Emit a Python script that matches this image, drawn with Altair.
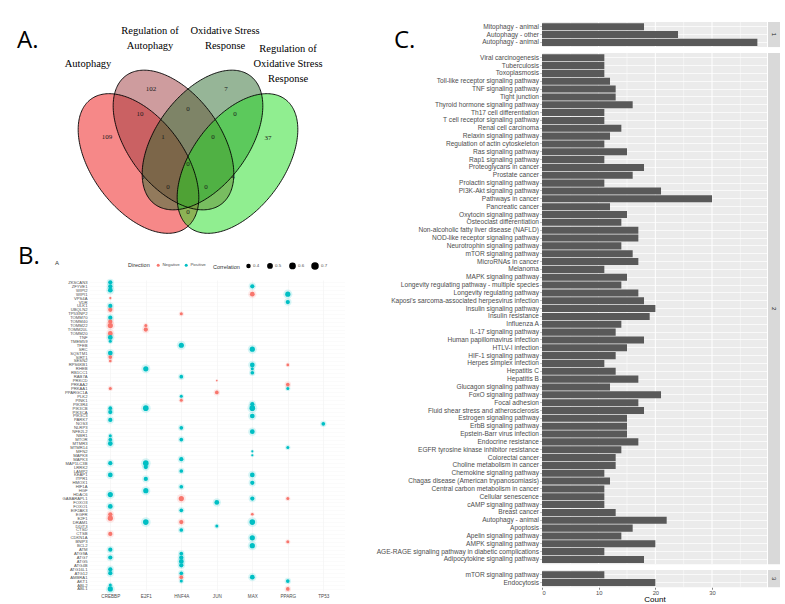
import altair as alt
import numpy as np
import pandas as pd

FONT = "Liberation Sans"
SERIF = "Liberation Serif"

# ======================= DATA =======================
# ---- Panel A: Venn ----
venn_sets = ["Autophagy", "Regulation of Autophagy", "Oxidative Stress Response",
             "Regulation of Oxidative Stress Response"]
venn_colors = ["#ee1111", "#9e3a3e", "#2e6b30", "#22dd22"]
venn_region_counts = [109, 102, 7, 37, 10, 0, 0, 1, 0, 0, 1, 4, 0, 0, 0]
venn_label_lines = ["Autophagy", "Regulation of", "Autophagy", "Oxidative Stress", "Response",
                    "Regulation of", "Oxidative Stress", "Response"]

# ---- Panel B: dot plot ----
tfs = ["CREBBP", "E2F1", "HNF4A", "JUN", "MAX", "PPARG", "TP53"]
genes = ["ZKSCAN3", "ZFYVE1", "WIPI2", "WIPI1", "VPS4A", "VDR", "ULK1", "UBQLN2", "TP53INP2",
         "TOMM70", "TOMM40", "TOMM22", "TOMM20L", "TOMM20", "TNF", "TMEM59", "TFEB", "SRC",
         "SQSTM1", "SIRT1", "SESN2", "RPS6KB1", "RHEB", "RB1CC1", "RAB7A", "PRKCD", "PRKAA2",
         "PRKAA1", "PPARGC1A", "PLK2", "PINK1", "PIK3R4", "PIK3CB", "PIK3CA", "PIK3C3", "PARK7",
         "NOS3", "NLRP3", "NFE2L2", "NBR1", "MTOR", "MTMR3", "MTMR14", "MFN2", "MAPK8", "MAPK3",
         "MAP1LC3B", "LRRK2", "LAMP2", "KEAP1", "ITPR1", "HMOX1", "HIF1A", "HGF", "HDAC6",
         "GABARAPL1", "FOXO3", "FOXO1", "EIF2AK3", "EGFR", "E2F1", "DRAM1", "DDIT3", "CTSD",
         "CTSB", "CDKN1A", "BNIP3", "BCL2", "ATM", "ATG9A", "ATG7", "ATG5", "ATG4B", "ATG16L1",
         "ATG12", "AMBRA1", "AKT1", "ABL2", "ABL1"]
# (gene row index, direction P/N, correlation)
dots_CREBBP = [(0, "P", .5), (1, "P", .5), (2, "P", .55), (4, "N", .35), (6, "P", .5), (7, "N", .5),
               (9, "P", .5), (10, "N", .5), (11, "N", .6), (13, "N", .55), (14, "P", .55),
               (15, "P", .4), (18, "P", .55), (19, "N", .45), (20, "N", .38), (27, "N", .4),
               (32, "P", .45), (33, "P", .5), (35, "P", .5), (39, "P", .4), (40, "P", .45),
               (41, "P", .55), (46, "P", .5), (49, "P", .55), (54, "P", .6), (57, "P", .55),
               (59, "N", .5), (60, "N", .6), (64, "N", .5), (68, "P", .5), (70, "P", .5),
               (73, "P", .5), (74, "P", .5), (77, "P", .4), (78, "P", .6)]
dots_E2F1 = [(11, "N", .4), (12, "N", .5), (22, "P", .6), (32, "P", .65), (46, "P", .65),
             (47, "P", .5), (50, "P", .5), (53, "P", .6), (61, "P", .65)]
dots_HNF4A = [(8, "N", .4), (16, "P", .6), (24, "P", .45), (29, "P", .4), (30, "N", .4),
              (37, "P", .45), (40, "P", .45), (45, "P", .5), (48, "P", .45), (52, "P", .45),
              (55, "N", .6), (58, "P", .45), (61, "N", .5), (63, "P", .45), (69, "P", .45),
              (70, "P", .5), (71, "P", .55), (72, "P", .5), (74, "P", .45), (75, "N", .45),
              (76, "P", .4)]
dots_JUN = [(25, "N", .33), (28, "N", .45), (56, "P", .55), (62, "P", .4)]
dots_MAX = [(1, "P", .5), (3, "N", .55), (17, "P", .6), (21, "P", .55), (22, "P", .4),
            (23, "P", .45), (31, "P", .5), (32, "P", .65), (34, "P", .55), (38, "P", .55),
            (43, "P", .35), (44, "P", .35), (49, "P", .55), (51, "P", .5), (55, "P", .5),
            (59, "N", .38), (61, "P", .65), (65, "P", .6), (67, "P", .6), (75, "P", .55)]
dots_PPARG = [(3, "P", .6), (5, "P", .5), (21, "N", .38), (26, "N", .45), (27, "P", .4),
              (42, "P", .4), (55, "N", .4), (66, "N", .4), (76, "P", .45), (78, "N", .45)]
dots_TP53 = [(36, "P", .45)]

# ---- Panel C: KEGG bar chart ----
c1_terms = ["Mitophagy - animal", "Autophagy - other", "Autophagy - animal"]
c1_counts = [18, 24, 38]
c2_terms = ["Viral carcinogenesis", "Tuberculosis", "Toxoplasmosis",
            "Toll-like receptor signaling pathway", "TNF signaling pathway", "Tight junction",
            "Thyroid hormone signaling pathway", "Th17 cell differentiation",
            "T cell receptor signaling pathway", "Renal cell carcinoma", "Relaxin signaling pathway",
            "Regulation of actin cytoskeleton", "Ras signaling pathway", "Rap1 signaling pathway",
            "Proteoglycans in cancer", "Prostate cancer", "Prolactin signaling pathway",
            "PI3K-Akt signaling pathway", "Pathways in cancer", "Pancreatic cancer",
            "Oxytocin signaling pathway", "Osteoclast differentiation",
            "Non-alcoholic fatty liver disease (NAFLD)", "NOD-like receptor signaling pathway",
            "Neurotrophin signaling pathway", "mTOR signaling pathway", "MicroRNAs in cancer",
            "Melanoma", "MAPK signaling pathway", "Longevity regulating pathway - multiple species",
            "Longevity regulating pathway", "Kaposi's sarcoma-associated herpesvirus infection",
            "Insulin signaling pathway", "Insulin resistance", "Influenza A",
            "IL-17 signaling pathway", "Human papillomavirus infection", "HTLV-I infection",
            "HIF-1 signaling pathway", "Herpes simplex infection", "Hepatitis C", "Hepatitis B",
            "Glucagon signaling pathway", "FoxO signaling pathway", "Focal adhesion",
            "Fluid shear stress and atherosclerosis", "Estrogen signaling pathway",
            "ErbB signaling pathway", "Epstein-Barr virus infection", "Endocrine resistance",
            "EGFR tyrosine kinase inhibitor resistance", "Colorectal cancer",
            "Choline metabolism in cancer", "Chemokine signaling pathway",
            "Chagas disease (American trypanosomiasis)", "Central carbon metabolism in cancer",
            "Cellular senescence", "cAMP signaling pathway", "Breast cancer", "Autophagy - animal",
            "Apoptosis", "Apelin signaling pathway", "AMPK signaling pathway",
            "AGE-RAGE signaling pathway in diabetic complications",
            "Adipocytokine signaling pathway"]
c2_counts = [11, 11, 11, 12, 13, 13, 16, 11, 11, 14, 12, 11, 15, 11, 18, 16, 11, 21, 30, 12,
             15, 14, 17, 17, 14, 16, 17, 11, 15, 14, 17, 18, 20, 19, 14, 13, 18, 15, 13, 11,
             13, 17, 12, 21, 17, 18, 15, 15, 15, 17, 14, 13, 13, 11, 12, 11, 11, 11, 13, 22,
             16, 14, 20, 11, 18]
c3_terms = ["mTOR signaling pathway", "Endocytosis"]
c3_counts = [11, 20]
major_ticks = [0, 10, 20, 30]
minor_ticks = [5, 15, 25, 35]

# ======================= LAYOUT (pixels) =======================
venn_cx = [137.5, 172.5, 201.5, 236.5]
venn_cy = [162.5, 139.0, 139.0, 162.5]
venn_angle = [53.4, 53.4, 126.6, 126.6]
ELL_A, ELL_B = 80.0, 46.0
count_x = [106, 150, 225, 267, 139, 187, 234, 162, 212, 187, 142, 232, 167, 205, 187]
count_y = [136, 88, 88, 137, 113, 108, 113, 136, 136, 163, 176, 176, 186, 186, 211]
label_x = [87, 149, 149, 224, 224, 287, 287, 287]
label_y = [63, 30, 45, 30, 45, 48, 63, 78]
TOP = 21                      # top of panel C plot area (and venn view origin)
V_X0, V_W = 88, 257
V_H = 277.6 - 40 - TOP        # venn view height
DOT_W, DOT_H = 255.6, 311.3
STEP, C_W = 7.84, 225

# ======================= PANEL A =======================
vx = alt.Scale(domain=[V_X0, V_X0 + V_W], nice=False, zero=False)
vy = alt.Scale(domain=[TOP, TOP + V_H], nice=False, zero=False, reverse=True)

fill_rows, line_rows = [], []
for k, (nm, cx, cy, deg) in enumerate(zip(venn_sets, venn_cx, venn_cy, venn_angle)):
    th = np.deg2rad(deg)
    c, s = np.cos(th), np.sin(th)
    qa = s * s / ELL_A ** 2 + c * c / ELL_B ** 2
    xext = np.sqrt(ELL_A ** 2 * c * c + ELL_B ** 2 * s * s)
    X = np.linspace(-xext, xext, 241)
    qb = 2 * X * (c * s / ELL_A ** 2 - s * c / ELL_B ** 2)
    qc = X * X * (c * c / ELL_A ** 2 + s * s / ELL_B ** 2) - 1
    disc = np.sqrt(np.clip(qb * qb - 4 * qa * qc, 0, None))
    y_lo = (-qb - disc) / (2 * qa)
    y_hi = (-qb + disc) / (2 * qa)
    for xv, a1, a2 in zip(X, y_lo, y_hi):
        fill_rows.append({"set": nm, "k": k, "x": cx + xv, "y1": cy + a1, "y2": cy + a2})
    tt = np.linspace(0, 2 * np.pi, 241)
    for i, t in enumerate(tt):
        line_rows.append({"set": nm, "i": i,
                          "x": cx + ELL_A * np.cos(t) * c - ELL_B * np.sin(t) * s,
                          "y": cy + ELL_A * np.cos(t) * s + ELL_B * np.sin(t) * c})
fill_df = pd.DataFrame(fill_rows)
line_df = pd.DataFrame(line_rows)

fills = alt.Chart(fill_df).mark_area(fillOpacity=0.5, opacity=1, strokeWidth=0).encode(
    x=alt.X("x:Q", scale=vx, axis=None),
    y=alt.Y("y1:Q", scale=vy, axis=None, stack=None),
    y2="y2:Q",
    fill=alt.Fill("set:N", scale=alt.Scale(domain=venn_sets, range=venn_colors), legend=None),
    detail="set:N",
)
outlines = alt.Chart(line_df).mark_line(color="black", strokeWidth=0.9).encode(
    x=alt.X("x:Q", scale=vx, axis=None),
    y=alt.Y("y:Q", scale=vy, axis=None),
    detail="set:N",
    order="i:Q",
)
cnt_df = pd.DataFrame({"x": count_x, "y": count_y, "n": [str(v) for v in venn_region_counts]})
counts = alt.Chart(cnt_df).mark_text(font=SERIF, fontSize=7, color="#1a1a1a").encode(
    x=alt.X("x:Q", scale=vx, axis=None), y=alt.Y("y:Q", scale=vy, axis=None), text="n:N")
lab_df = pd.DataFrame({"x": label_x, "y": label_y, "t": venn_label_lines})
labels = alt.Chart(lab_df).mark_text(font=SERIF, fontSize=10.5, color="black").encode(
    x=alt.X("x:Q", scale=vx, axis=None), y=alt.Y("y:Q", scale=vy, axis=None), text="t:N")
one = alt.Data(values=[{}])
a_txt = alt.Chart(one).mark_text(text="A.", font="Open Sans", fontSize=24, align="left",
                                 baseline="alphabetic", color="black").encode(
    x=alt.value(16 - V_X0), y=alt.value(47 - TOP))
v_spacer = alt.Chart(one).mark_rule(color="white", strokeWidth=1).encode(
    x=alt.value(-V_X0), y=alt.value(0), y2=alt.value(1))
venn = alt.layer(fills, outlines, counts, labels, a_txt, v_spacer).properties(
    width=V_W, height=V_H)

# ======================= PANEL B =======================
rows = []
for tf, lst in zip(tfs, [dots_CREBBP, dots_E2F1, dots_HNF4A, dots_JUN, dots_MAX, dots_PPARG,
                         dots_TP53]):
    for gi, d, c in lst:
        rows.append({"tf": tf, "gene": genes[gi],
                     "Direction": "Positive" if d == "P" else "Negative", "Correlation": c})
dot_df = pd.DataFrame(rows)

bx = alt.Scale(type="point", domain=tfs, padding=0.6)
by = alt.Scale(type="point", domain=genes, padding=0.6)
bxax = alt.Axis(title=None, labelFontSize=4.6, labelColor="#4D4D4D", ticks=False, domain=False,
                grid=True, gridColor="#F1F1F1", gridWidth=0.6, labelPadding=2, labelAngle=0)
byax = alt.Axis(title=None, labelFontSize=4.2, labelColor="#4D4D4D", ticks=False, domain=False,
                grid=True, gridColor="#F4F4F4", gridWidth=0.4, labelPadding=2)
col_dom = ["Negative", "Positive"]
col_rng = ["#F8766D", "#00BFC4"]

halo = alt.Chart(dot_df).mark_circle(opacity=0.16).encode(
    x=alt.X("tf:N", scale=bx, axis=bxax), y=alt.Y("gene:N", scale=by, axis=byax),
    color=alt.Color("Direction:N", scale=alt.Scale(domain=col_dom, range=col_rng), legend=None),
    size=alt.Size("Correlation:Q", scale=alt.Scale(domain=[0.3, 0.7], range=[0, 110]),
                  legend=None),
)
pts = alt.Chart(dot_df).mark_circle(opacity=1).encode(
    x=alt.X("tf:N", scale=bx, axis=bxax), y=alt.Y("gene:N", scale=by, axis=byax),
    color=alt.Color("Direction:N", scale=alt.Scale(domain=col_dom, range=col_rng),
                    legend=alt.Legend(title="Direction", orient="none", legendX=39, legendY=-17,
                                      direction="horizontal", titleOrient="left",
                                      titleFontSize=5.5, titleFontWeight="normal",
                                      titleColor="#333333", labelFontSize=4.4,
                                      labelColor="#4D4D4D", symbolSize=9, symbolType="circle",
                                      columnPadding=4, labelOffset=2, titlePadding=6,
                                      symbolStrokeWidth=0)),
    size=alt.Size("Correlation:Q", scale=alt.Scale(domain=[0.3, 0.7], range=[0, 36]),
                  legend=alt.Legend(title="Correlation", orient="none", legendX=124, legendY=-18,
                                    direction="horizontal", titleOrient="left",
                                    values=[0.4, 0.5, 0.6, 0.7], titleFontSize=5.5,
                                    titleFontWeight="normal", titleColor="#333333",
                                    labelFontSize=4.4, labelColor="#4D4D4D",
                                    symbolFillColor="black", symbolStrokeColor="black",
                                    symbolOpacity=1, columnPadding=4, labelOffset=2,
                                    titlePadding=6)),
)
b_txt = alt.Chart(one).mark_text(text="B.", font="Open Sans", fontSize=24, align="left",
                                 baseline="alphabetic", color="black").encode(
    x=alt.value(17 - 88), y=alt.value(262 - 277.6))
small_a = alt.Chart(one).mark_text(text="A", fontSize=6, color="#333333").encode(
    x=alt.value(56 - 88), y=alt.value(261 - 277.6))
b_spacer = alt.Chart(one).mark_rule(color="white", strokeWidth=1).encode(
    x=alt.value(0), y=alt.value(-40), y2=alt.value(-39))
dot = alt.layer(halo, pts, b_txt, small_a, b_spacer).resolve_scale(
    size="independent", color="independent").properties(width=DOT_W, height=DOT_H)


# ======================= PANEL C =======================
def c_panel(terms, values, strip, bottom=False, extras=()):
    n = len(terms)
    h = STEP * (n + 0.2)
    df = pd.DataFrame({"term": terms, "Count": values})
    xsc = alt.Scale(domain=[0, 39.7], nice=False, zero=False)
    if bottom:
        xax = alt.Axis(values=major_ticks, grid=False, labelFontSize=5.8, labelColor="#4D4D4D",
                       tickSize=2, tickColor="#333333", tickWidth=0.6, domain=False,
                       title="Count", titleFontSize=8, titleFontWeight="normal",
                       titleColor="black", titlePadding=0, labelPadding=0.5)
    else:
        xax = None
    yax = alt.Axis(title=None, labelFontSize=6.6, labelColor="#4D4D4D", tickSize=2,
                   tickColor="#333333", tickWidth=0.6, domain=False, grid=True,
                   gridColor="white", gridWidth=0.7, bandPosition=0.5, labelPadding=1.5,
                   labelLimit=400)
    minor = alt.Chart(pd.DataFrame({"v": minor_ticks})).mark_rule(
        color="white", strokeWidth=0.5).encode(x=alt.X("v:Q", scale=xsc, axis=xax))
    major = alt.Chart(pd.DataFrame({"v": major_ticks})).mark_rule(
        color="white", strokeWidth=1).encode(x=alt.X("v:Q", scale=xsc, axis=xax))
    bars = alt.Chart(df).mark_bar(color="#595959").encode(
        x=alt.X("Count:Q", scale=xsc, axis=xax),
        y=alt.Y("term:N", sort=terms,
                scale=alt.Scale(domain=terms, paddingInner=0.1, paddingOuter=0.15), axis=yax),
    )
    s_rect = alt.Chart(one).mark_rect(color="#D9D9D9").encode(
        x=alt.value(C_W + 1), x2=alt.value(C_W + 13), y=alt.value(0), y2=alt.value(h))
    s_txt = alt.Chart(one).mark_text(text=strip, angle=90, fontSize=6, color="#1A1A1A").encode(
        x=alt.value(C_W + 7), y=alt.value(h / 2))
    return alt.layer(minor, major, bars, s_rect, s_txt, *extras).properties(
        width=C_W, height=h, view=alt.ViewBackground(fill="#EBEBEB", stroke=None))


c_txt = alt.Chart(one).mark_text(text="C.", font="Open Sans", fontSize=24, align="left",
                                 baseline="alphabetic", color="black").encode(
    x=alt.value(395 - 543), y=alt.value(47 - TOP))
c_top_spacer = alt.Chart(one).mark_rule(color="white", strokeWidth=1).encode(
    x=alt.value(0), y=alt.value(-TOP), y2=alt.value(-TOP + 1))
c_left_spacer = alt.Chart(one).mark_rule(color="white", strokeWidth=1).encode(
    x=alt.value(-170), y=alt.value(0), y2=alt.value(1))

c1 = c_panel(c1_terms, c1_counts, "1", extras=(c_txt, c_top_spacer))
c2 = c_panel(c2_terms, c2_counts, "2", extras=(c_left_spacer,))
c3 = c_panel(c3_terms, c3_counts, "3", bottom=True)

left = alt.vconcat(venn, dot, spacing=0)
right = alt.vconcat(c1, alt.vconcat(c2, c3, spacing=4.0), spacing=-3.5)

chart = alt.hconcat(left, right, spacing=25).properties(padding=0).configure(
    font=FONT).configure_view(stroke="transparent", strokeWidth=0)

chart.save("out.html", embed_options={"renderer": "svg", "actions": False})
